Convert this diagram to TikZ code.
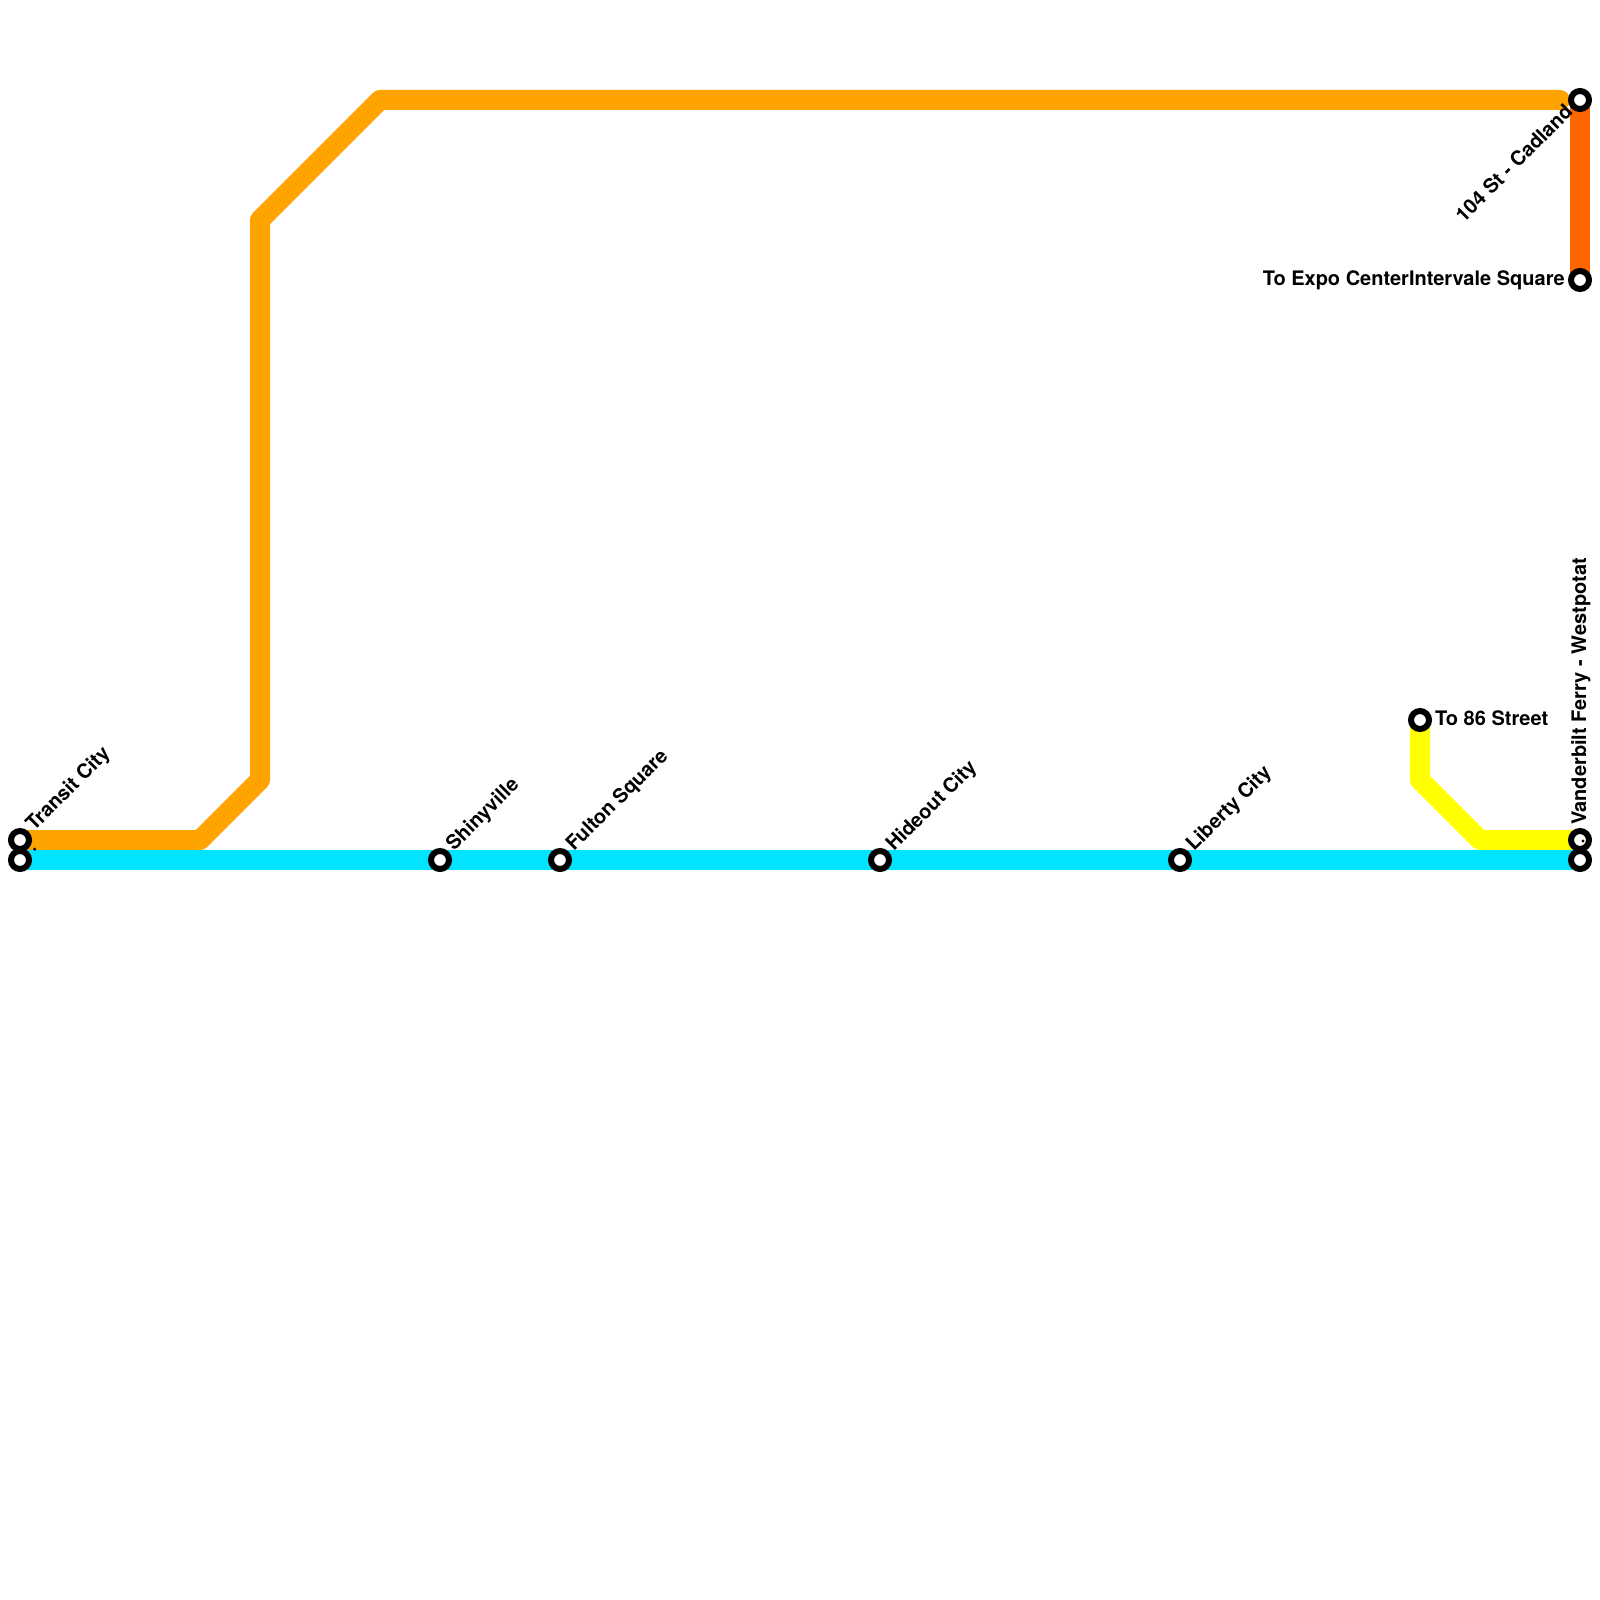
\documentclass[tikz,border=0pt]{standalone}
\usepackage{fontspec}
\setmainfont{TeX Gyre Heros}
\definecolor{lineO}{RGB}{255,163,0}
\definecolor{lineC}{RGB}{0,228,255}
\definecolor{lineY}{RGB}{255,255,0}
\definecolor{lineR}{RGB}{255,102,0}
\begin{document}
\begin{tikzpicture}[x=1pt,y=-1pt,
  route/.style={line width=20pt,line cap=round,line join=round},
  stn/.style={circle,draw=black,fill=white,line width=6pt,minimum size=18pt,inner sep=0pt,outer sep=0pt},
  speck/.style={circle,fill=black,inner sep=0pt,minimum size=3.4pt},
  lbl/.style={inner sep=0pt,font=\bfseries\fontsize{20}{20}\selectfont}]
\useasboundingbox (0,0) rectangle (1600,1600);
\fill[white] (0,0) rectangle (1600,1600);
\coordinate (o1) at (200,840); \coordinate (o2) at (260,780); \coordinate (o3) at (260,220); \coordinate (o4) at (380,100); \coordinate (o5) at (1560,100);
\coordinate (y1) at (1420,780); \coordinate (y2) at (1480,840);
\coordinate (a) at (20,840); \coordinate (b) at (20,860); \coordinate (c) at (1580,840); \coordinate (d) at (1580,860); \coordinate (e) at (1420,720); \coordinate (f) at (1580,100); \coordinate (g) at (1580,280);
\draw[route,lineO] (a) -- (o1) -- (o2) -- (o3) -- (o4) -- (o5);
\draw[route,lineR,line cap=butt] (f) -- (g);
\draw[route,lineY] (e) -- (y1) -- (y2) -- (c);
\draw[line width=20pt,lineC] (b) -- (d);
\node[stn] (s1) at (a) {};
\node[stn] (s2) at (b) {};
\node[stn] (s3) at (440,860) {};
\node[stn] (s4) at (560,860) {};
\node[stn] (s5) at (880,860) {};
\node[stn] (s6) at (1180,860) {};
\node[stn] (s7) at (e) {};
\node[stn] (s8) at (c) {};
\node[stn] (s9) at (d) {};
\node[stn] (s10) at (f) {};
\node[stn] (s11) at (g) {};
\node[speck] (p1) at (34.7,849.2) {};
\node[speck] (p2) at (1583,841) {};
\node[lbl,anchor=base west,rotate=45] (t1) at (34,832) {Transit City};
\node[lbl,anchor=base west,rotate=45] (t3) at (454,852) {Shinyville};
\node[lbl,anchor=base west,rotate=45] (t4) at (574,852) {Fulton Square};
\node[lbl,anchor=base west,rotate=45] (t5) at (894,852) {Hideout City};
\node[lbl,anchor=base west,rotate=45] (t6) at (1194,852) {Liberty City};
\node[lbl,anchor=base west] (t7) at (1435,725) {To 86 Street};
\node[lbl,anchor=base west,rotate=90] (t8) at (1586,825) {Vanderbilt Ferry - Westpotat};
\node[lbl,anchor=base east,rotate=45] (t10) at (1574,113) {104 St - Cadland};
\node[lbl,anchor=base east] (t11) at (1565,285) {To Expo CenterIntervale Square};
\end{tikzpicture}
\end{document}
